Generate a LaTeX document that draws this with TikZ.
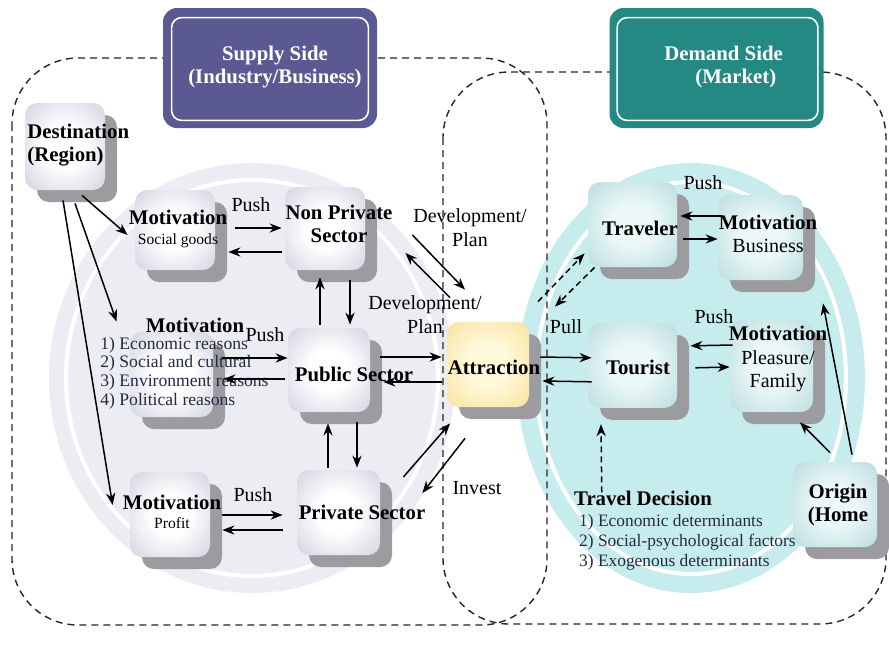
\documentclass[tikz,border=0pt]{standalone}
\usepackage{fontspec}
\setmainfont{Liberation Serif}
\usetikzlibrary{arrows.meta, positioning, shadows}

\definecolor{supplyfill}{RGB}{91,89,145}
\definecolor{demandfill}{RGB}{36,137,131}
\definecolor{supplydisc}{RGB}{236,236,243}
\definecolor{demanddisc}{RGB}{199,236,238}
\definecolor{supplyedge}{RGB}{184,184,208}
\definecolor{demandedge}{RGB}{156,204,208}
\definecolor{demandcore}{RGB}{236,248,248}
\definecolor{attractedge}{RGB}{247,212,118}
\definecolor{attractcore}{RGB}{255,249,220}
\definecolor{shadowgray}{RGB}{155,155,160}
\definecolor{listink}{RGB}{38,42,64}

\pgfdeclareradialshading{supplyglow}{\pgfpoint{0bp}{0bp}}{color(0bp)=(white); color(12bp)=(white); color(50bp)=(supplyedge); color(100bp)=(supplyedge)}
\pgfdeclareradialshading{demandglow}{\pgfpoint{0bp}{0bp}}{color(0bp)=(demandcore); color(12bp)=(demandcore); color(50bp)=(demandedge); color(100bp)=(demandedge)}
\pgfdeclareradialshading{attractglow}{\pgfpoint{0bp}{0bp}}{color(0bp)=(attractcore); color(12bp)=(attractcore); color(50bp)=(attractedge); color(100bp)=(attractedge)}

\newcommand{\subtext}{\fontsize{7.8}{9}\selectfont\mdseries}
\newcommand{\plaintxt}{\fontsize{10}{12}\selectfont\mdseries}

\tikzstyle{region} = [dash pattern=on 3.5pt off 2.5pt, line width=0.7pt, rounded corners=33pt, draw=black!85]
\tikzstyle{sidebox} = [rectangle, rounded corners=7pt, minimum width=107pt, minimum height=60pt, inner sep=0pt]
\tikzstyle{sidetext} = [text=white, font=\fontsize{10.4}{11.6}\selectfont\bfseries, inner sep=0pt]
\tikzstyle{nodebox} = [rectangle, rounded corners=6pt, inner sep=0pt, minimum width=41pt, minimum height=42.5pt, drop shadow={shadow xshift=6pt, shadow yshift=-6pt, fill=shadowgray, opacity=1}]
\tikzstyle{supplynode} = [nodebox, shading=supplyglow]
\tikzstyle{demandnode} = [nodebox, shading=demandglow]
\tikzstyle{attractnode} = [nodebox, shading=attractglow]
\tikzstyle{boxtext} = [font=\fontsize{10.4}{11.6}\selectfont\bfseries, align=center, inner sep=0pt]
\tikzstyle{plaintext} = [font=\plaintxt, align=center, inner sep=0pt]
\tikzstyle{reasonlist} = [font=\fontsize{8.8}{9.35}\selectfont, text=listink, align=left, inner sep=0pt]
\tikzstyle{arrow} = [line width=0.75pt, -{Stealth[length=6pt, width=4.6pt]}]
\tikzstyle{dasharrow} = [arrow, dash pattern=on 3pt off 2pt]

\begin{document}
\begin{tikzpicture}[x=0.5pt, y=-0.5pt]
    \useasboundingbox (0,0) rectangle (889,655);
    \fill[white] (0,0) rectangle (889,655);

    % Background discs
    \fill[supplydisc] (252,378) ellipse [x radius=101.5pt, y radius=107.5pt];
    \draw[white, line width=2pt] (252,378) ellipse [x radius=93pt, y radius=99pt];
    \fill[demanddisc] (691,378) ellipse [x radius=87pt, y radius=107.5pt];
    \draw[white, line width=2pt] (691,378) ellipse [x radius=77.5pt, y radius=98pt];

    % Regions
    \draw[region] (12,58) rectangle (547,625);
    \draw[region] (443,72) rectangle (886,624);

    % Side titles
    \node[sidebox, fill=supplyfill] (supply) at (270,68) {};
    \draw[white, line width=0.8pt, rounded corners=5pt] ([shift={(9,10)}]supply.north west) rectangle ([shift={(-9,-8)}]supply.south east);
    \node[sidetext, align=center] (supply_txt) at (275,67) {Supply Side\\(Industry/Business)};
    \node[sidebox, fill=demandfill] (demand) at (716.5,68) {};
    \draw[white, line width=0.8pt, rounded corners=5pt] ([shift={(8,10)}]demand.north west) rectangle ([shift={(-6,-8)}]demand.south east);
    \node[sidetext, align=left, anchor=west] (demand_txt) at (664,67) {Demand Side\\\hspace*{15.5pt}(Market)};

    % Nodes
    \node[supplynode, minimum width=40pt, minimum height=43.5pt] (destination) at (65,146.5) {};
    \node[supplynode, minimum width=40pt, minimum height=40pt] (motiv_social) at (175,230) {};
    \node[supplynode, minimum width=40pt, minimum height=41.5pt] (non_private) at (325,228.5) {};
    \node[supplynode, minimum width=41.5pt] (motiv_reasons) at (171.5,374.5) {};
    \node[supplynode, minimum height=42pt] (public) at (329,370) {};
    \node[supplynode, minimum width=40pt] (motiv_profit) at (170,514.5) {};
    \node[supplynode, minimum width=41.5pt] (private) at (338.5,512.5) {};
    \node[attractnode] (attraction) at (488,364.5) {};
    \node[demandnode, minimum width=44.5pt] (traveler) at (632.5,224.5) {};
    \node[demandnode, minimum width=44.5pt, below=27.5pt of traveler] (tourist) {};
    \node[demandnode, minimum width=42.5pt] (motiv_business) at (760.5,237.5) {};
    \node[demandnode, minimum width=41.5pt, minimum height=46pt] (motiv_pleasure) at (771.5,366) {};
    \node[demandnode, minimum width=42pt] (origin) at (835,504.5) {};

    % Texts
    \node[boxtext, align=left, anchor=west] (destination_txt) at (27,145) {Destination\\(Region)};
    \node[boxtext] (social_txt) at (178,229) {Motivation\\[-2pt]{\subtext Social goods}};
    \node[boxtext] (non_private_txt) at (339,224) {Non Private\\Sector};
    \node[boxtext] (reasons_txt) at (195,325) {Motivation};
    \node[reasonlist, anchor=west] (reasons_list) at (100,373) {1) Economic reasons\\2) Social and cultural\\3) Environment reasons\\4) Political reasons};
    \node[boxtext] (public_txt) at (354,374) {Public Sector};
    \node[boxtext] (profit_txt) at (172,512) {Motivation\\[-2pt]{\subtext Profit}};
    \node[boxtext] (private_txt) at (362,512) {Private Sector};
    \node[boxtext] (attraction_txt) at (494,367) {Attraction};
    \node[boxtext] (traveler_txt) at (640,228) {Traveler};
    \node[boxtext] (tourist_txt) at (638,367) {Tourist};
    \node[boxtext] (business_txt) at (768,234) {Motivation\\{\plaintxt Business}};
    \node[boxtext] (pleasure_txt) at (778,359) {Motivation\\{\plaintxt Pleasure/}\\{\plaintxt Family}};
    \node[boxtext] (origin_txt) at (838,505) {Origin\\(Home};
    \node[boxtext] (decision) at (643,498) {Travel Decision};
    \node[reasonlist, font=\fontsize{8.7}{10}\selectfont, below=4pt of decision.south west, anchor=north west, xshift=2.5pt] (decision_list) {1) Economic determinants\\2) Social-psychological factors\\3) Exogenous determinants};

    \node[plaintext] (push_social) at (251,205) {Push};
    \node[plaintext] (push_reasons) at (265,335) {Push};
    \node[plaintext] (push_profit) at (253,495) {Push};
    \node[plaintext] (push_business) at (703,183) {Push};
    \node[plaintext] (push_pleasure) at (714,317) {Push};
    \node[plaintext] (plan_upper) at (470,228) {Development/\\Plan};
    \node[plaintext] (plan_lower) at (425,315) {Development/\\Plan};
    \node[plaintext] (invest) at (477,488) {Invest};
    \node[plaintext] (pull) at (566,327) {Pull};

    % Arrows
    \draw[arrow] ([shift={(17,5)}]destination.south) -- ([shift={(-7,5)}]motiv_social.west);
    \draw[arrow] ([shift={(10,13)}]destination.south) -- ([shift={(-13,-10)}]motiv_reasons.north west);
    \draw[arrow] ([shift={(-2,10)}]destination.south) -- ([shift={(-17,-9.5)}]motiv_profit.west);

    \draw[arrow] ([shift={(20,-2)}]motiv_social.east) -- ([shift={(-3,-0.5)}]non_private.west);
    \draw[arrow] ([shift={(-3,23.5)}]non_private.west) -- ([shift={(13,22)}]motiv_social.east);
    \draw[arrow] ([shift={(-9,-3)}]public.north) -- ([shift={(-5,7)}]non_private.south);
    \draw[arrow] ([shift={(25,10)}]non_private.south) -- ([shift={(21,-3)}]public.north);
    \draw[arrow] ([shift={(9,-16.5)}]motiv_reasons.east) -- ([shift={(0,-12)}]public.west);
    \draw[arrow] ([shift={(-3,9)}]public.west) -- ([shift={(10,4.5)}]motiv_reasons.east);
    \draw[arrow] ([shift={(-10.5,-2)}]private.north) -- ([shift={(-1,11)}]public.south);
    \draw[arrow] ([shift={(28,10)}]public.south) -- ([shift={(18.5,-2)}]private.north);
    \draw[arrow] ([shift={(12,0.5)}]motiv_profit.east) -- ([shift={(-14,2.5)}]private.west);
    \draw[arrow] ([shift={(-14,17.5)}]private.west) -- ([shift={(12,15.5)}]motiv_profit.east);

    \draw[arrow] ([shift={(10,-13)}]public.east) -- ([shift={(-5,-7.5)}]attraction.west);
    \draw[arrow] ([shift={(-5,17.5)}]attraction.west) -- ([shift={(13,12)}]public.east);
    \draw[arrow] ([shift={(47,6.5)}]non_private.east) -- ([shift={(-23,-32)}]attraction.north);
    \draw[arrow] ([shift={(-38,-24)}]attraction.north) -- ([shift={(40,24.5)}]non_private.east);
    \draw[arrow] ([shift={(23,-35.5)}]private.east) -- ([shift={(-38,16)}]attraction.south);
    \draw[arrow] ([shift={(-23,31)}]attraction.south) -- ([shift={(42,-19.5)}]private.east);

    \draw[arrow] ([shift={(11,-7.5)}]attraction.east) -- ([shift={(4,-7.5)}]tourist.west);
    \draw[arrow] ([shift={(4,16.5)}]tourist.west) -- ([shift={(13,16.5)}]attraction.east);
    \draw[dasharrow] ([shift={(50,-20)}]attraction.north) -- ([shift={(-3,-14)}]traveler.south west);
    \draw[dasharrow] ([shift={(7,0)}]traveler.south west) -- ([shift={(67,-15)}]attraction.north);

    \draw[arrow] ([shift={(4,-21.5)}]motiv_business.west) -- ([shift={(3,-8.5)}]traveler.east);
    \draw[arrow] ([shift={(6,14.5)}]traveler.east) -- ([shift={(0,1.5)}]motiv_business.west);
    \draw[arrow] ([shift={(3,-21)}]motiv_pleasure.west) -- ([shift={(13,-19.5)}]tourist.east);
    \draw[arrow] ([shift={(18,2.5)}]tourist.east) -- ([shift={(0,1)}]motiv_pleasure.west);
    \draw[dasharrow] ([shift={(28,2)}]decision.north west) -- ([shift={(-31.5,16)}]tourist.south);
    \draw[arrow] ([shift={(-5,-9)}]origin.north) -- ([shift={(28.5,10)}]motiv_pleasure.south);
    \draw[arrow] ([shift={(17,-7)}]origin.north) -- ([shift={(62.5,23)}]motiv_business.south);
\end{tikzpicture}
\end{document}
